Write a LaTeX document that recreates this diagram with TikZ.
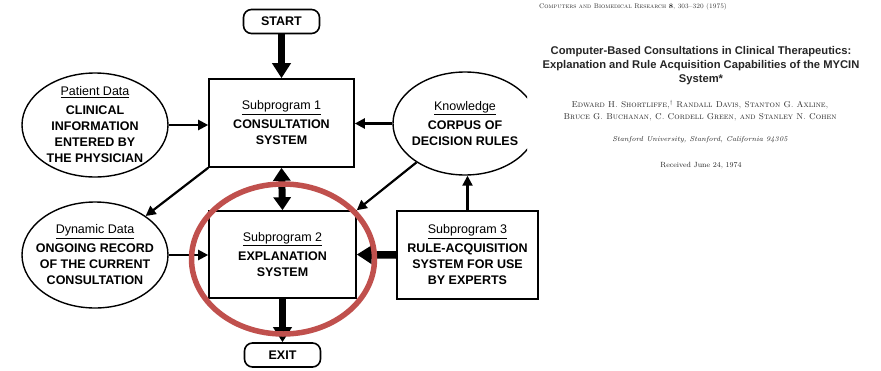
\documentclass[tikz,border=0pt]{standalone}
\usepackage{fontspec}
\usetikzlibrary{shapes.geometric,arrows.meta}
\newfontfamily\diagfont{Liberation Sans}
\definecolor{ringred}{RGB}{192,80,77}
\definecolor{inkgray}{gray}{0.15}

\tikzset{
  boxtext/.style={font=\diagfont\bfseries\fontsize{12.5}{16}\selectfont, align=center},
  progbox/.style={boxtext, draw, line width=1.6pt, rectangle, inner sep=0pt},
  % negative inner sep so that the minimum size alone fixes each ellipse
  dataell/.style={boxtext, draw, line width=1.4pt, ellipse, inner xsep=-20pt, inner ysep=-15pt},
  termbox/.style={boxtext, draw, line width=1.6pt, rounded corners=8pt,
    minimum width=76pt, minimum height=24pt, inner sep=0pt},
  thinarr/.style={line width=2.2pt, -{Triangle[length=10pt,width=10pt]}},
  thickarr/.style={line width=7.5pt, -{Triangle[length=15pt,width=18pt]}},
  thickboth/.style={line width=7pt, {Triangle[length=13pt,width=17pt]}-{Triangle[length=13pt,width=17pt]}},
  paper/.style={text=inkgray, inner sep=0pt, align=center}
}
\newcommand{\lbl}[1]{\underline{\mdseries #1}\\[3pt]}

\begin{document}
\begin{tikzpicture}[x=1pt,y=-1pt]
\useasboundingbox (0,0) rectangle (881,370);
\fill[white] (0,0) rectangle (881,370);

% terminals
\node[termbox] (start) at (281.5,21.5) {START};
\node[termbox] (exit) at (282.5,355) {EXIT};

% subprograms
\node[progbox, minimum width=145pt, minimum height=88pt] (box1) at (281.5,123)
  {\lbl{Subprogram 1}CONSULTATION\\SYSTEM};
\node[progbox, minimum width=147pt, minimum height=87pt] (box2) at (282.5,254.5)
  {\lbl{Subprogram 2}EXPLANATION\\SYSTEM};
\node[progbox, minimum width=141pt, minimum height=88pt] (box3) at (467.5,255)
  {\lbl{Subprogram 3}RULE-ACQUISITION\\SYSTEM FOR USE\\BY EXPERTS};

% data stores
\node[dataell, minimum width=146pt, minimum height=104pt] (pat) at (95,125)
  {\lbl{Patient Data}CLINICAL\\INFORMATION\\ENTERED BY\\THE PHYSICIAN};
\node[dataell, minimum width=146pt, minimum height=106pt] (dyn) at (95,255)
  {\lbl{Dynamic Data}ONGOING RECORD\\OF THE CURRENT\\CONSULTATION};
\begin{scope}
  \clip (0,0) rectangle (527,200);
  \node[dataell, minimum width=144pt, minimum height=103pt] (know) at (465,123.5)
    {\lbl{Knowledge}CORPUS OF\\DECISION RULES};
\end{scope}

% flow of control
\draw[thickarr] (start.south) -- (box1.north);
\draw[thickboth] (box1.south) -- (box2.north);
\draw[thickarr] (box3.west) -- (box2.east);
\draw[thickarr] (box2.south) -- (exit.north);

% flow of data
\draw[thinarr] (pat) -- (pat -| box1.west);
\draw[thinarr] (know) -- (know -| box1.east);
\draw[thinarr] (dyn) -- (dyn -| box2.west);
\draw[thinarr] (box1.south west) -- (dyn);
\draw[thinarr] (know) -- (box2.north east);
\draw[thinarr] (box3.north) -- (box3.north |- know.south);

% highlight ring
\draw[ringred, line width=5.5pt] (283,259) ellipse [x radius=91.5pt, y radius=75pt];

% title page of the paper
\node[paper, anchor=west, font=\fontsize{6.7}{8}\selectfont\scshape] (journal) at (539,7)
  {Computers and Biomedical Research \textbf{8}, 303--320 (1975)};
\node[paper, font=\diagfont\bfseries\fontsize{11.2}{14}\selectfont] (title) at (701,66)
  {Computer-Based Consultations in Clinical Therapeutics:\\
   Explanation and Rule Acquisition Capabilities of the MYCIN\\
   System*};
\node[paper, font=\fontsize{8.5}{12}\selectfont\scshape] (authors) at (700,111)
  {Edward H. Shortliffe,\textsuperscript{\textdagger} Randall Davis, Stanton G. Axline,\\
   Bruce G. Buchanan, C. Cordell Green, and Stanley N. Cohen};
\node[paper, font=\fontsize{7.1}{9}\selectfont\itshape] (affil) at (700,140)
  {Stanford University, Stanford, California 94305};
\node[paper, font=\fontsize{7.5}{9}\selectfont] (received) at (701,166)
  {Received June 24, 1974};
\end{tikzpicture}
\end{document}
